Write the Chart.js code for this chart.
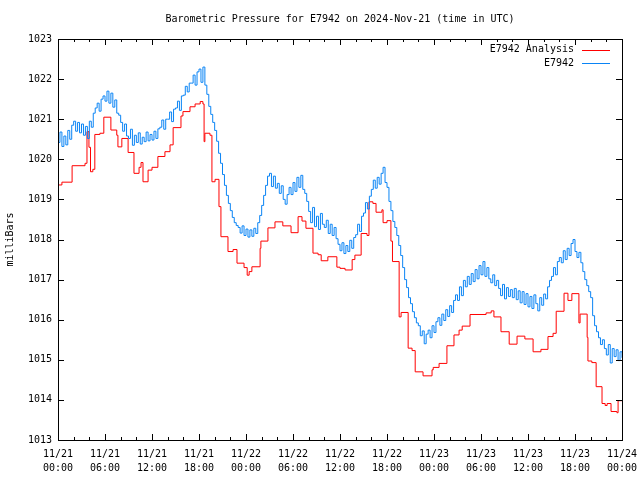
<!DOCTYPE html>
<html>
<head>
<meta charset="utf-8">
<script src="https://cdn.jsdelivr.net/npm/chart.js@4/dist/chart.umd.min.js"></script>
<style>
  html, body { margin: 0; padding: 0; background: #fff; }
  canvas { display: block; }
</style>
</head>
<body>
<canvas id="grafic" width="640" height="480"></canvas>
<script>
const titolGrafic = 'Barometric Pressure for E7942 on 2024-Nov-21 (time in UTC)';
const etiquetaEixY = 'milliBars';
const nomAnalisi = 'E7942 Analysis';
const nomEstacio = 'E7942';

// hores des de 11/21 00:00 UTC
const horaInici = 0;
const horaFinal = 72;
const pressioMin = 1013;
const pressioMax = 1023;

// analisi: hora on comenca cada graó i valor
const horesAnalisi = [
  0.0, 0.5, 1.8, 3.45, 3.7, 3.95, 4.15, 4.45, 4.7, 5.35, 5.85, 6.75, 7.5, 7.65, 8.15, 8.95,
  9.7, 10.35, 10.6, 10.85, 11.5, 12.0, 12.75, 13.65, 14.3, 14.7, 15.7, 15.95, 16.85, 17.5,
  18.15, 18.5, 18.65, 18.75, 19.4, 19.65, 20.05, 20.55, 20.8, 21.7, 22.35, 22.85, 23.75,
  24.15, 24.4, 24.75, 25.8, 25.9, 26.8, 27.7, 28.7, 29.75, 30.65, 31.15, 31.65, 32.55,
  33.2, 33.6, 34.45, 35.6, 36.0, 36.65, 37.55, 37.9, 38.7, 39.45, 39.7, 40.2, 40.6, 41.35,
  41.5, 42.0, 42.5, 42.7, 43.55, 43.8, 44.7, 45.2, 45.6, 46.6, 47.75, 47.9, 48.65, 49.65,
  50.55, 51.2, 51.6, 52.6, 54.65, 55.3, 55.65, 56.55, 57.6, 58.6, 59.6, 60.65, 61.65,
  62.55, 63.2, 63.6, 64.6, 65.1, 65.6, 66.5, 66.65, 67.55, 67.65, 68.15, 68.7, 69.45,
  69.85, 70.1, 70.6, 71.35, 71.5, 72.0
];
const pressioAnalisi = [
  1019.36, 1019.43, 1019.84, 1019.90, 1020.69, 1020.30, 1019.69, 1019.75, 1020.62, 1020.65, 1021.05, 1020.73, 1020.60, 1020.31, 1020.52, 1020.17,
  1019.65, 1019.80, 1019.92, 1019.44, 1019.73, 1019.80, 1020.07, 1020.19, 1020.36, 1020.79, 1021.08, 1021.19, 1021.31, 1021.38,
  1021.44, 1021.38, 1020.44, 1020.65, 1020.60, 1019.44, 1019.50, 1018.82, 1018.07, 1017.70, 1017.75, 1017.41, 1017.30,
  1017.11, 1017.20, 1017.32, 1017.78, 1017.96, 1018.29, 1018.44, 1018.34, 1018.17, 1018.57, 1018.46, 1018.28, 1017.66,
  1017.62, 1017.47, 1017.57, 1017.31, 1017.28, 1017.24, 1017.50, 1017.61, 1018.15, 1018.10, 1018.94, 1018.90, 1018.68, 1018.74,
  1018.42, 1018.47, 1017.96, 1017.45, 1016.07, 1016.18, 1015.29, 1015.23, 1014.70, 1014.60, 1014.75, 1014.81, 1014.91, 1015.35,
  1015.62, 1015.74, 1015.84, 1016.13, 1016.17, 1016.22, 1016.07, 1015.70, 1015.39, 1015.59, 1015.52, 1015.20, 1015.26,
  1015.58, 1015.66, 1016.21, 1016.66, 1016.48, 1016.65, 1015.92, 1016.14, 1015.56, 1014.97, 1014.93, 1014.33, 1013.91,
  1013.86, 1013.91, 1013.71, 1013.68, 1013.98, 1013.98
];

// estacio: una lectura cada 15 minuts
const pasEstacioHores = 0.25;
const pressioEstacio = [
  1020.42, 1020.68, 1020.32, 1020.58, 1020.36, 1020.72, 1020.50, 1020.85, 1020.95, 1020.70, 1020.92, 1020.66,
  1020.88, 1020.60, 1020.82, 1020.52, 1020.95, 1020.80, 1021.15, 1021.28, 1021.40, 1021.20, 1021.50, 1021.58,
  1021.45, 1021.70, 1021.40, 1021.65, 1021.30, 1021.48, 1021.15, 1021.10, 1020.92, 1020.70, 1020.88, 1020.58,
  1020.52, 1020.75, 1020.35, 1020.60, 1020.42, 1020.66, 1020.38, 1020.55, 1020.44, 1020.68, 1020.46, 1020.62,
  1020.48, 1020.70, 1020.52, 1020.76, 1020.80, 1020.98, 1020.75, 1021.00, 1021.00, 1021.18, 1020.94, 1021.25,
  1021.28, 1021.45, 1021.22, 1021.58, 1021.60, 1021.82, 1021.68, 1021.90, 1021.90, 1022.10, 1021.85, 1022.18,
  1022.25, 1021.92, 1022.30, 1021.85, 1021.62, 1021.32, 1021.12, 1020.92, 1020.72, 1020.45, 1020.15, 1019.90,
  1019.62, 1019.35, 1019.10, 1018.90, 1018.72, 1018.55, 1018.42, 1018.35, 1018.30, 1018.16, 1018.34, 1018.10,
  1018.26, 1018.06, 1018.24, 1018.08, 1018.28, 1018.15, 1018.42, 1018.60, 1018.85, 1019.10, 1019.35, 1019.58,
  1019.65, 1019.32, 1019.58, 1019.28, 1019.40, 1019.15, 1019.34, 1019.00, 1018.88, 1019.12, 1019.30, 1019.12,
  1019.42, 1019.20, 1019.55, 1019.30, 1019.60, 1019.25, 1019.15, 1018.95, 1018.70, 1018.42, 1018.80, 1018.32,
  1018.58, 1018.25, 1018.65, 1018.38, 1018.30, 1018.48, 1018.15, 1018.38, 1018.10, 1018.30, 1018.02, 1017.88,
  1017.72, 1017.92, 1017.65, 1017.85, 1017.70, 1017.98, 1017.78, 1018.05, 1018.12, 1018.38, 1018.20, 1018.58,
  1018.66, 1018.92, 1018.76, 1019.08, 1019.25, 1019.48, 1019.28, 1019.55, 1019.38, 1019.65, 1019.80, 1019.42,
  1019.30, 1018.95, 1018.72, 1018.45, 1018.30, 1018.10, 1017.85, 1017.60, 1017.30, 1017.00, 1016.80, 1016.55,
  1016.40, 1016.20, 1016.05, 1015.92, 1015.85, 1015.60, 1015.72, 1015.40, 1015.64, 1015.74, 1015.55, 1015.85,
  1015.68, 1015.95, 1016.05, 1015.86, 1016.14, 1015.98, 1016.25, 1016.08, 1016.35, 1016.18, 1016.48, 1016.62,
  1016.48, 1016.82, 1016.60, 1016.98, 1016.82, 1017.08, 1016.88, 1017.15, 1016.95, 1017.25, 1017.02, 1017.35,
  1017.12, 1017.45, 1017.08, 1017.30, 1017.02, 1016.92, 1017.12, 1016.85, 1016.98, 1016.78, 1016.60, 1016.88,
  1016.52, 1016.80, 1016.58, 1016.75, 1016.55, 1016.78, 1016.50, 1016.72, 1016.42, 1016.70, 1016.38, 1016.65,
  1016.32, 1016.58, 1016.28, 1016.62, 1016.40, 1016.22, 1016.55, 1016.36, 1016.64, 1016.52, 1016.82, 1016.98,
  1017.08, 1017.30, 1017.12, 1017.45, 1017.55, 1017.42, 1017.72, 1017.50, 1017.78, 1017.60, 1017.90, 1018.00,
  1017.70, 1017.55, 1017.68, 1017.42, 1017.20, 1017.00, 1016.85, 1016.70, 1016.55, 1016.10, 1015.85, 1015.70,
  1015.55, 1015.38, 1015.50, 1015.28, 1015.12, 1015.38, 1014.92, 1015.28, 1015.08, 1015.25, 1014.98, 1015.20,
  1015.05
];

const colorAnalisi = '#ff0000';
const colorEstacio = '#0a84f5';
const fontMono = '"DejaVu Sans Mono", "Liberation Mono", monospace';

const puntsAnalisi = horesAnalisi.map((h, i) => ({ x: h, y: pressioAnalisi[i] }));
const puntsEstacio = pressioEstacio.map((p, i) => ({ x: i * pasEstacioHores, y: p }));

function etiquetaHora(valor) {
  const dia = 21 + Math.floor(valor / 24);
  const hora = valor % 24;
  return ['11/' + dia, String(hora).padStart(2, '0') + ':00'];
}

// marc, marques cap endins, titol i llegenda a l'estil gnuplot
const estilGnuplot = {
  id: 'estilGnuplot',
  afterDraw(chart) {
    const ctx = chart.ctx;
    const a = chart.chartArea;
    const sx = chart.scales.x;
    const sy = chart.scales.y;
    ctx.save();
    ctx.strokeStyle = '#000';
    ctx.lineWidth = 1;
    ctx.beginPath();
    for (let h = horaInici; h <= horaFinal; h += 2) {
      const px = Math.round(sx.getPixelForValue(h)) + 0.5;
      const llarg = h % 6 === 0 ? 6 : 3;
      ctx.moveTo(px, a.bottom); ctx.lineTo(px, a.bottom - llarg);
      ctx.moveTo(px, a.top); ctx.lineTo(px, a.top + llarg);
    }
    for (let p = pressioMin; p <= pressioMax; p++) {
      const py = Math.round(sy.getPixelForValue(p)) + 0.5;
      ctx.moveTo(a.left, py); ctx.lineTo(a.left + 6, py);
      ctx.moveTo(a.right, py); ctx.lineTo(a.right - 6, py);
    }
    ctx.stroke();
    ctx.strokeRect(Math.round(a.left) + 0.5, Math.round(a.top) + 0.5,
      Math.round(a.right - a.left), Math.round(a.bottom - a.top));

    ctx.fillStyle = '#000';
    ctx.font = '10px ' + fontMono;
    ctx.textAlign = 'center';
    ctx.textBaseline = 'middle';
    ctx.fillText(titolGrafic, (a.left + a.right) / 2, 19);

    const llegenda = [[nomAnalisi, colorAnalisi], [nomEstacio, colorEstacio]];
    llegenda.forEach(([text, color], i) => {
      const y = 49.5 + i * 13.5;
      ctx.fillStyle = '#000';
      ctx.textAlign = 'right';
      ctx.fillText(text, a.right - 48, y);
      ctx.strokeStyle = color;
      ctx.beginPath();
      ctx.moveTo(a.right - 40, Math.round(y) + 0.5);
      ctx.lineTo(a.right - 12, Math.round(y) + 0.5);
      ctx.stroke();
    });
    ctx.restore();
  }
};

new Chart(document.getElementById('grafic'), {
  type: 'line',
  data: {
    datasets: [
      {
        label: nomAnalisi,
        data: puntsAnalisi,
        borderColor: colorAnalisi,
        borderWidth: 1,
        pointRadius: 0,
        stepped: true,
        order: 1
      },
      {
        label: nomEstacio,
        data: puntsEstacio,
        borderColor: colorEstacio,
        borderWidth: 1,
        pointRadius: 0,
        stepped: true,
        order: 0
      }
    ]
  },
  options: {
    responsive: false,
    animation: false,
    layout: { padding: { top: 39, right: 18, left: 0, bottom: 0 } },
    plugins: {
      legend: { display: false },
      title: { display: false },
      tooltip: { enabled: false }
    },
    scales: {
      x: {
        type: 'linear',
        min: horaInici,
        max: horaFinal,
        grid: { display: false, drawTicks: false },
        border: { display: false },
        afterFit(scale) {
          scale.height = 40;
          scale.paddingLeft = 0;
          scale.paddingRight = 0;
        },
        ticks: {
          stepSize: 6,
          autoSkip: false,
          maxRotation: 0,
          padding: 7,
          color: '#000',
          font: { family: fontMono, size: 10, lineHeight: 1.4 },
          callback: etiquetaHora
        }
      },
      y: {
        min: pressioMin,
        max: pressioMax,
        grid: { display: false, drawTicks: false },
        border: { display: false },
        afterFit(scale) {
          scale.width = 58;
          scale.paddingTop = 0;
          scale.paddingBottom = 0;
        },
        ticks: {
          stepSize: 1,
          padding: 6,
          color: '#000',
          font: { family: fontMono, size: 10 },
          callback: v => String(v)
        },
        title: {
          display: true,
          text: etiquetaEixY,
          color: '#000',
          padding: { top: 4, bottom: 0 },
          font: { family: fontMono, size: 10 }
        }
      }
    }
  },
  plugins: [estilGnuplot]
});
</script>
</body>
</html>
